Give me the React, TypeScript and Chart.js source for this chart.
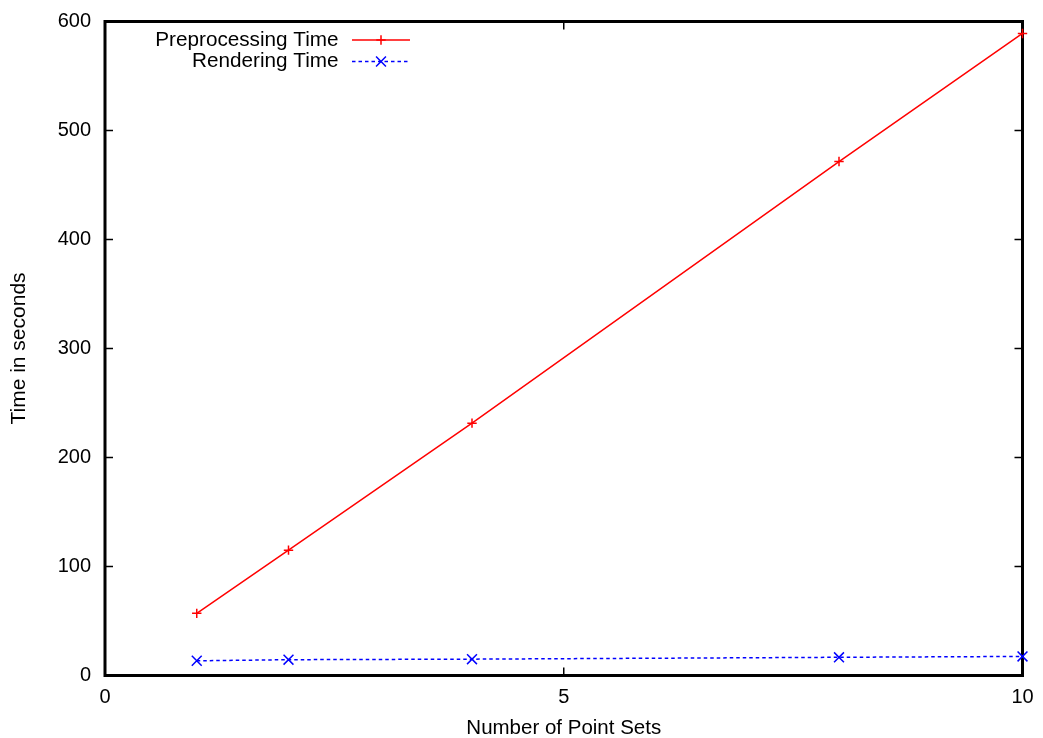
import React, { useEffect, useRef } from "react";
import { Chart, registerables } from "chart.js";

Chart.register(...registerables);

const pointSets = [1, 2, 4, 8, 10];
const preprocessingTime = [57, 115, 231.5, 471.5, 589];
const renderingTime = [13.5, 14.5, 15, 16.7, 17.5];
const xTicks = [0, 5, 10];
const yTicks = [0, 100, 200, 300, 400, 500, 600];
const seriesLabels = ["Preprocessing Time", "Rendering Time"];

const FONT = "'Liberation Sans', Arial, sans-serif";

const frame = {
  id: "frame",
  beforeDatasetsDraw(chart: any) {
    const { ctx, chartArea: a, scales } = chart;
    const tl = 8;
    ctx.save();
    ctx.strokeStyle = "#000";
    ctx.lineWidth = 1.5;
    ctx.beginPath();
    for (const v of yTicks) {
      const y = scales.y.getPixelForValue(v);
      ctx.moveTo(a.left, y);
      ctx.lineTo(a.left + tl, y);
      ctx.moveTo(a.right, y);
      ctx.lineTo(a.right - tl, y);
    }
    for (const v of xTicks) {
      const x = scales.x.getPixelForValue(v);
      ctx.moveTo(x, a.bottom);
      ctx.lineTo(x, a.bottom - tl);
      ctx.moveTo(x, a.top);
      ctx.lineTo(x, a.top + tl);
    }
    ctx.stroke();
    ctx.lineWidth = 3;
    ctx.strokeRect(a.left, a.top, a.right - a.left, a.bottom - a.top);
    ctx.restore();
  },
  afterDraw(chart: any) {
    const { ctx } = chart;
    ctx.save();
    ctx.font = `20.7px ${FONT}`;
    ctx.textAlign = "right";
    ctx.textBaseline = "middle";
    const rows = [40, 61.5];
    chart.data.datasets.forEach((ds: any, i: number) => {
      const y = rows[i];
      ctx.fillStyle = "#000";
      ctx.fillText(ds.label, 338.5, y);
      ctx.strokeStyle = ds.borderColor;
      ctx.lineWidth = ds.borderWidth;
      ctx.setLineDash(ds.borderDash || []);
      ctx.beginPath();
      ctx.moveTo(352, y);
      ctx.lineTo(410, y);
      ctx.stroke();
      ctx.setLineDash([]);
      ctx.lineWidth = ds.pointBorderWidth;
      ctx.beginPath();
      const cx = 381;
      if (ds.pointStyle === "cross") {
        const r = ds.pointRadius;
        ctx.moveTo(cx - r, y);
        ctx.lineTo(cx + r, y);
        ctx.moveTo(cx, y - r);
        ctx.lineTo(cx, y + r);
      } else {
        const r = ds.pointRadius * Math.SQRT1_2;
        ctx.moveTo(cx - r, y - r);
        ctx.lineTo(cx + r, y + r);
        ctx.moveTo(cx - r, y + r);
        ctx.lineTo(cx + r, y - r);
      }
      ctx.stroke();
    });
    ctx.restore();
  },
};

export default function App() {
  const ref = useRef<HTMLCanvasElement>(null);
  useEffect(() => {
    if (!ref.current) return;
    const chart = new Chart(ref.current, {
      type: "scatter",
      data: {
        datasets: [
          {
            label: seriesLabels[0],
            data: pointSets.map((x, i) => ({ x, y: preprocessingTime[i] })),
            showLine: true,
            borderColor: "#ff0000",
            backgroundColor: "#ff0000",
            borderWidth: 1.5,
            pointStyle: "cross",
            pointRadius: 4.7,
            pointBorderWidth: 1.5,
            pointBorderColor: "#ff0000",
            clip: false,
          } as any,
          {
            label: seriesLabels[1],
            data: pointSets.map((x, i) => ({ x, y: renderingTime[i] })),
            showLine: true,
            borderColor: "#0000ff",
            backgroundColor: "#0000ff",
            borderWidth: 1.5,
            borderDash: [3.5, 3],
            pointStyle: "crossRot",
            pointRadius: 7,
            pointBorderWidth: 1.5,
            pointBorderColor: "#0000ff",
            clip: false,
          } as any,
        ],
      },
      options: {
        animation: false,
        responsive: true,
        maintainAspectRatio: false,
        layout: { padding: { left: 0, right: 20.5, top: 21.5, bottom: 0 } },
        plugins: { legend: { display: false }, tooltip: { enabled: false } },
        scales: {
          x: {
            type: "linear",
            min: 0,
            max: 10,
            grid: { display: false, drawTicks: false },
            border: { display: false },
            afterBuildTicks: (s: any) => {
              s.ticks = xTicks.map((v) => ({ value: v }));
            },
            afterFit: (s: any) => {
              s.height = 62.5;
              s.paddingLeft = 0;
              s.paddingRight = 0;
            },
            ticks: {
              padding: 10,
              color: "#000",
              font: { family: FONT, size: 20 },
              maxRotation: 0,
            },
            title: {
              display: true,
              text: "Number of Point Sets",
              color: "#000",
              font: { family: FONT, size: 20.5, lineHeight: 0.8 },
              padding: { top: 0, bottom: 1 },
            },
          },
          y: {
            type: "linear",
            min: 0,
            max: 600,
            grid: { display: false, drawTicks: false },
            border: { display: false },
            afterBuildTicks: (s: any) => {
              s.ticks = yTicks.map((v) => ({ value: v }));
            },
            afterFit: (s: any) => {
              s.width = 105;
              s.paddingTop = 0;
              s.paddingBottom = 0;
            },
            ticks: {
              padding: 14,
              color: "#000",
              font: { family: FONT, size: 20 },
            },
            title: {
              display: true,
              text: "Time in seconds",
              color: "#000",
              font: { family: FONT, size: 21, lineHeight: 1 },
              padding: { top: 9, bottom: 0 },
            },
          },
        },
      },
      plugins: [frame],
    });
    return () => chart.destroy();
  }, []);
  return (
    <div style={{ position: "absolute", left: 0, top: 0, width: 1043, height: 738, background: "#fff" }}>
      <canvas ref={ref} />
    </div>
  );
}
